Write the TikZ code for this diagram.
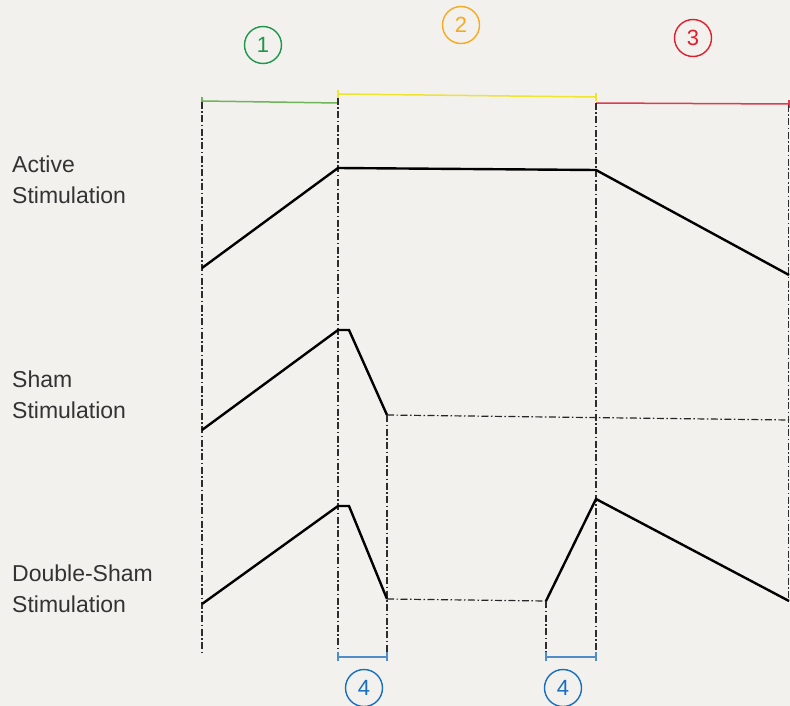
\documentclass[tikz,border=0pt]{standalone}
\usepackage{fontspec}
\setmainfont{Liberation Sans}
\definecolor{paper}{RGB}{242,241,237}
\definecolor{inkgray}{RGB}{45,45,45}
\definecolor{phaseA}{RGB}{30,150,75}
\definecolor{phaseAbar}{RGB}{110,180,90}
\definecolor{phaseB}{RGB}{247,170,30}
\definecolor{phaseBbar}{RGB}{240,228,50}
\definecolor{phaseC}{RGB}{225,30,45}
\definecolor{phaseCbar}{RGB}{220,60,80}
\definecolor{rampblue}{RGB}{25,110,190}
\definecolor{rampbar}{RGB}{80,140,200}
\begin{document}
\begin{tikzpicture}[x=1pt,y=-1pt,
  signal/.style={line width=2.4pt, black, line join=miter},
  guide/.style={line width=1.2pt, inkgray, dash pattern=on 7pt off 2.5pt on 1.5pt off 2.5pt},
  offline/.style={line width=1.2pt, black!85, dash pattern=on 7pt off 2.5pt on 1.5pt off 2.5pt},
  bar/.style={line width=1.5pt},
  tag/.style={circle, draw, line width=1.4pt, minimum size=37pt, inner sep=0pt,
              font=\fontsize{22}{22}\selectfont},
  rowlabel/.style={anchor=base west, align=left, inner sep=0pt, text=black!80,
              font=\fontsize{23}{31}\selectfont}]

  % canvas
  \fill[paper] (0,0) rectangle (790,706);
  \useasboundingbox (0,0) rectangle (790,706);

  % phase markers
  \node[tag, phaseA] (t1) at (263,45) {1};
  \node[tag, phaseB] (t2) at (461,25) {2};
  \node[tag, phaseC] (t3) at (693,38) {3};
  \node[tag, rampblue] (t4a) at (364,688) {4};
  \node[tag, rampblue] (t4b) at (563,688) {4};

  % row labels (anchored on the baseline of the second line)
  \node[rowlabel] (lActive) at (12,203) {Active\\Stimulation};
  \node[rowlabel] (lSham) at (12,418) {Sham\\Stimulation};
  \node[rowlabel] (lDouble) at (12,612) {Double-Sham\\Stimulation};

  % phase bars
  \coordinate (gA) at (202,101); \coordinate (gB) at (338,103);
  \coordinate (yA) at (338,94);  \coordinate (yB) at (596,97);
  \coordinate (rA) at (596,103); \coordinate (rB) at (789,104);
  \draw[bar, phaseAbar] (gA) -- (gB);
  \draw[bar, phaseAbar] ([yshift=-4]gA) -- ([yshift=4]gA);
  \draw[bar, phaseBbar] (yA) -- (yB);
  \draw[bar, phaseBbar] ([yshift=-4]yA) -- ([yshift=4]yA);
  \draw[bar, phaseBbar] ([yshift=-4]yB) -- ([yshift=4]yB);
  \draw[bar, phaseCbar] (rA) -- (rB);
  \draw[bar, phaseCbar] ([yshift=-4]rB) -- ([yshift=4]rB);

  % vertical guides
  \coordinate (v0t) at (202,102); \coordinate (v0b) at (202,655);
  \coordinate (v1t) at (338,98);  \coordinate (v1b) at (338,655);
  \coordinate (v4t) at (596,103); \coordinate (v4b) at (596,655);
  \coordinate (v5t) at (788.5,105); \coordinate (v5b) at (788.5,601);
  \coordinate (v2t) at (387,415); \coordinate (v2b) at (387,655);
  \coordinate (v3t) at (546,601); \coordinate (v3b) at (546,655);
  \draw[guide] (v0t) -- (v0b);
  \draw[guide] (v1t) -- (v1b);
  \draw[guide] (v4t) -- (v4b);
  \draw[guide] (v5t) -- (v5b);
  \draw[guide] (v2t) -- (v2b);
  \draw[guide] (v3t) -- (v3b);

  % active stimulation
  \coordinate (a0) at (202,268); \coordinate (a1) at (338,168);
  \coordinate (a2) at (596,170); \coordinate (a3) at (789,275);
  \draw[signal] (a0) -- (a1) -- (a2) -- (a3);

  % sham stimulation
  \coordinate (s0) at (202,430); \coordinate (s1) at (338,330);
  \coordinate (s2) at (349,330); \coordinate (s3) at (387,415);
  \coordinate (s4) at (789,420);
  \draw[signal] (s0) -- (s1) -- (s2) -- (s3);
  \draw[offline] (s3) -- (s4);

  % double-sham stimulation
  \coordinate (d0) at (202,604); \coordinate (d1) at (338,506);
  \coordinate (d2) at (349,506); \coordinate (d3) at (387,599);
  \coordinate (d4) at (546,601); \coordinate (d5) at (596,499);
  \coordinate (d6) at (789,601);
  \draw[signal] (d0) -- (d1) -- (d2) -- (d3);
  \draw[offline] (d3) -- (d4);
  \draw[signal] (d4) -- (d5) -- (d6);

  % ramp intervals
  \coordinate (b1a) at (338,657); \coordinate (b1b) at (387,657);
  \coordinate (b2a) at (546,657); \coordinate (b2b) at (596,657);
  \draw[bar, rampbar, line width=1.3pt] (b1a) -- (b1b);
  \draw[bar, rampbar, line width=1.3pt] ([yshift=-4]b1a) -- ([yshift=5]b1a);
  \draw[bar, rampbar, line width=1.3pt] ([yshift=-4]b1b) -- ([yshift=5]b1b);
  \draw[bar, rampbar, line width=1.3pt] (b2a) -- (b2b);
  \draw[bar, rampbar, line width=1.3pt] ([yshift=-4]b2a) -- ([yshift=5]b2a);
  \draw[bar, rampbar, line width=1.3pt] ([yshift=-4]b2b) -- ([yshift=5]b2b);
\end{tikzpicture}
\end{document}
